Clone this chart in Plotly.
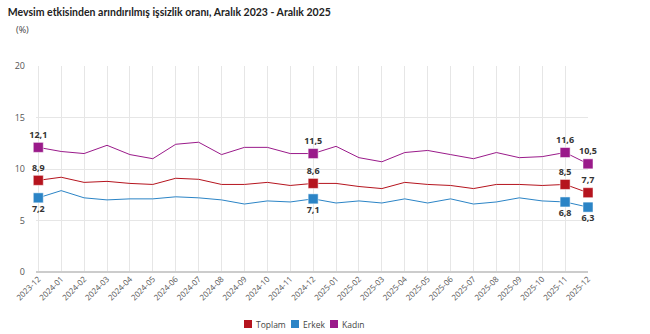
import plotly.graph_objects as go

months = ["2023-12","2024-01","2024-02","2024-03","2024-04","2024-05","2024-06","2024-07",
          "2024-08","2024-09","2024-10","2024-11","2024-12","2025-01","2025-02","2025-03",
          "2025-04","2025-05","2025-06","2025-07","2025-08","2025-09","2025-10","2025-11","2025-12"]
toplam = [8.9,9.2,8.7,8.8,8.6,8.5,9.1,9.0,8.5,8.5,8.7,8.4,8.6,8.6,8.3,8.1,8.7,8.5,8.4,8.1,8.5,8.5,8.4,8.5,7.7]
erkek  = [7.2,7.9,7.2,7.0,7.1,7.1,7.3,7.2,7.0,6.6,6.9,6.8,7.1,6.7,6.9,6.7,7.1,6.7,7.1,6.6,6.8,7.2,6.9,6.8,6.3]
kadin  = [12.1,11.7,11.5,12.3,11.4,11.0,12.4,12.6,11.4,12.1,12.1,11.5,11.5,12.2,11.1,10.7,11.6,11.8,11.4,11.0,11.6,11.1,11.2,11.6,10.5]
highlight = ["2023-12","2024-12","2025-11","2025-12"]
y_ticks = [0,5,10,15,20]
legend_names = ["Toplam", "Erkek", "Kadın"]

colors = ["#b5141e", "#2b84c6", "#9a1a8a"]
positions = ["top center", "bottom center", "top center"]
series = list(zip(legend_names, [toplam, erkek, kadin], colors, positions))

fig = go.Figure()
for name, vals, col, pos in series:
    fig.add_trace(go.Scatter(x=months, y=vals, mode="lines", line=dict(color=col, width=1),
                             name=name, showlegend=False, hoverinfo="skip"))
    hx = [m for m in months if m in highlight]
    hy = [v for m, v in zip(months, vals) if m in highlight]
    fig.add_trace(go.Scatter(x=hx, y=hy, mode="markers+text",
                             marker=dict(symbol="square", size=10, color=col,
                                         line=dict(color="white", width=0.5)),
                             texttemplate="%{y:.1f}", textposition=pos,
                             textfont=dict(size=9, color="#333", family="Open Sans", weight="bold"),
                             showlegend=False, cliponaxis=False))

# manual legend (swatch + label) laid out like the reference
W, H, L, R, T, B = 650, 334, 36, 62, 66, 62
pw = W - L - R
ph = H - T - B
def px2paper(x):
    return (x - L) / pw
leg_y = -(324 - (H - B)) / ph
swatch_x = [244, 291, 330]
shapes = []
annotations = []
for sx, name, col in zip(swatch_x, legend_names, colors):
    shapes.append(dict(type="rect", xref="paper", yref="paper",
                       x0=px2paper(sx), x1=px2paper(sx + 8),
                       y0=leg_y - 4 / ph, y1=leg_y + 4 / ph,
                       fillcolor=col, line=dict(width=0)))
    annotations.append(dict(text=name, xref="paper", yref="paper", x=px2paper(sx + 10), y=leg_y,
                            xanchor="left", yanchor="middle", showarrow=False,
                            font=dict(size=8.5, color="#444")))
annotations.append(dict(text="(%)", xref="paper", yref="paper", x=-0.04, y=1.175,
                        xanchor="left", yanchor="middle", showarrow=False,
                        font=dict(size=9, color="#444")))

fig.update_layout(
    width=W, height=H,
    margin=dict(l=L, r=R, t=T, b=B),
    paper_bgcolor="white", plot_bgcolor="white",
    separators=", ",
    showlegend=False,
    font=dict(family="Open Sans", size=9, color="#555"),
    title=dict(text="<b>Mevsim etkisinden arındırılmış işsizlik oranı, Aralık 2023 - Aralık 2025</b>",
               x=0.012, xanchor="left", y=0.975, yanchor="top",
               font=dict(size=10.5, color="#222", family="Lato")),
    annotations=annotations,
    shapes=shapes,
    xaxis=dict(type="category", range=[-0.1, 24], tickangle=-45, showgrid=True, gridcolor="#e6e6e6",
               ticks="", tickfont=dict(size=8, color="#555"), showline=False, zeroline=False,
               automargin=False),
    yaxis=dict(range=[0, 20], tickvals=y_ticks, showgrid=True, gridcolor="#e6e6e6",
               zeroline=True, zerolinecolor="#cccccc", ticks="", tickfont=dict(size=9, color="#555"),
               ticklabelstandoff=10, automargin=False),
)
fig.write_html("out.html")
